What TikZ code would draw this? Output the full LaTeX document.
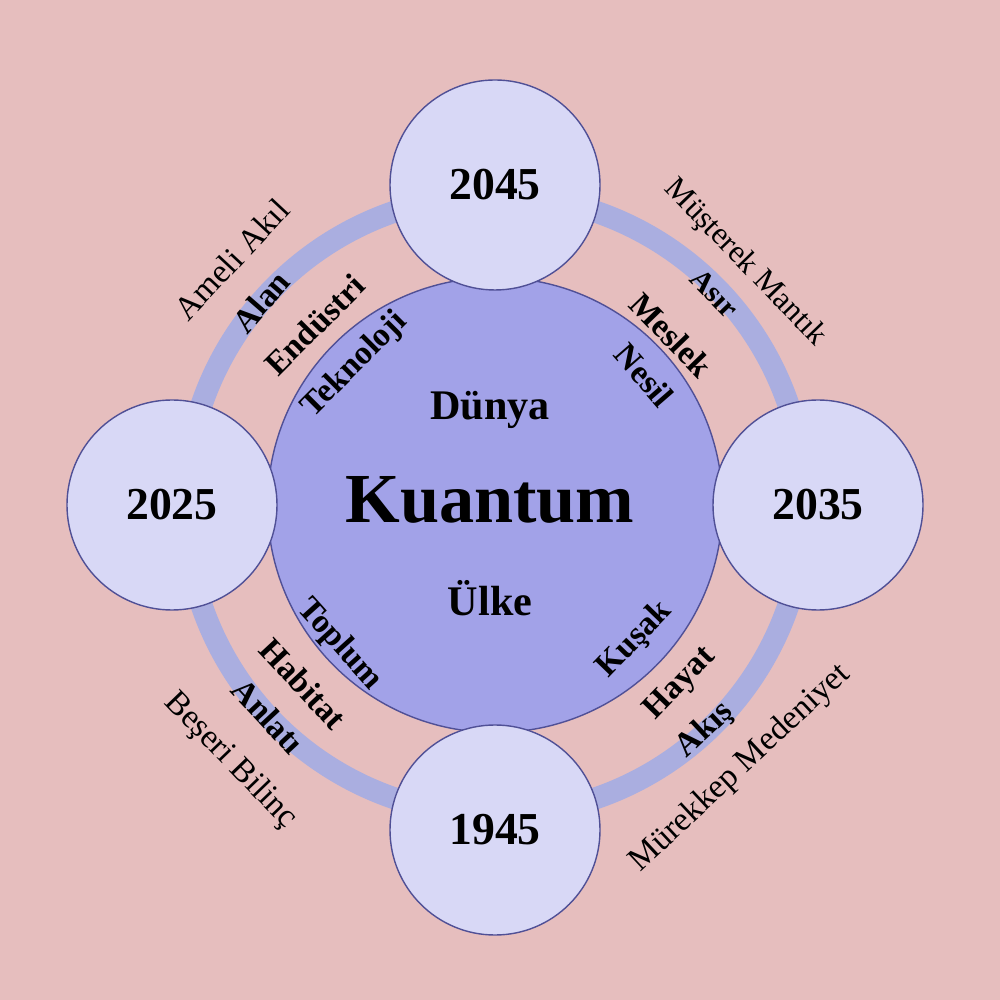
\documentclass[tikz,border=0pt]{standalone}
\usepackage{fontspec}
\setmainfont{Liberation Serif}
\usepackage{xcolor}
\definecolor{bgpink}{RGB}{230,190,190}
\definecolor{coreblue}{RGB}{162,162,232}
\definecolor{yearblue}{RGB}{216,216,246}
\definecolor{bandblue}{RGB}{170,174,224}
\definecolor{rimblue}{RGB}{80,80,150}
\begin{document}
\begin{tikzpicture}[
  year/.style={circle, draw=rimblue, fill=yearblue, minimum size=2.1cm, font=\fontsize{13}{15}\selectfont\bfseries},
  arclabel/.style={font=\fontsize{9.5}{11}\selectfont\bfseries, inner sep=0pt},
  outerlabel/.style={font=\fontsize{9.5}{11}\selectfont, inner sep=0pt}
]
\fill[bgpink] (-4.95,-4.95) rectangle (5.05,5.05);
\useasboundingbox (-4.95,-4.95) rectangle (5.05,5.05);
\draw[bandblue, line width=0.22cm] (0,0) circle (3.1);
\node[circle, draw=rimblue, fill=coreblue, minimum size=4.55cm] (core) at (0,0) {};
\node[year] (y2045) at (90:3.2) {2045};
\node[year] (y2025) at (180:3.23) {2025};
\node[year] (y2035) at (0:3.23) {2035};
\node[year] (y1945) at (270:3.25) {1945};
\node[font=\fontsize{12}{14}\selectfont\bfseries] (dunya) at (-0.05,0.95) {Dünya};
\node[font=\fontsize{20}{24}\selectfont\bfseries] (kuantum) at (-0.05,0.05) {Kuantum};
\node[font=\fontsize{12}{14}\selectfont\bfseries] (ulke) at (-0.05,-0.93) {Ülke};
% upper left
\node[outerlabel, rotate=47] (ameli) at (137:3.6) {Ameli Akıl};
\node[arclabel, rotate=49] (alan) at (139:3.1) {Alan};
\node[arclabel, rotate=45] (endustri) at (135:2.55) {Endüstri};
\node[arclabel, rotate=45] (tekno) at (135:1.98) {Teknoloji};
% upper right
\node[outerlabel, rotate=-46, font=\fontsize{9}{10}\selectfont] (musterek) at (44:3.48) {Müşterek Mantık};
\node[arclabel, rotate=-46, font=\fontsize{8.5}{10}\selectfont\bfseries] (asir) at (44:3.05) {Asır};
\node[arclabel, rotate=-46] (meslek) at (44:2.45) {Meslek};
\node[arclabel, rotate=-49] (nesil) at (41:1.98) {Nesil};
% lower right
\node[arclabel, rotate=46] (kusak) at (-44:1.94) {Kuşak};
\node[arclabel, rotate=46] (hayat) at (-44:2.58) {Hayat};
\node[arclabel, rotate=43] (akis) at (-47:3.08) {Akış};
\node[outerlabel, rotate=43] (murekkep) at (-47:3.6) {Mürekkep Medeniyet};
% lower left
\node[arclabel, rotate=-48] (toplum) at (-138:2.09) {Toplum};
\node[arclabel, rotate=-47] (habitat) at (-137:2.62) {Habitat};
\node[arclabel, rotate=-47] (anlati) at (-137:3.1) {Anlatı};
\node[outerlabel, rotate=-46] (beseri) at (-136:3.68) {Beşeri Bilinç};
\end{tikzpicture}
\end{document}
